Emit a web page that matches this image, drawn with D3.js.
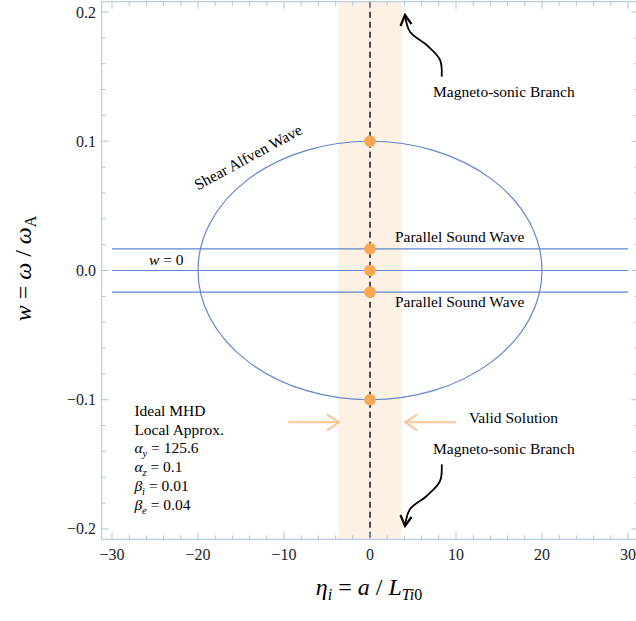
<!DOCTYPE html>
<html>
<head>
<meta charset="utf-8">
<script src="https://cdn.jsdelivr.net/npm/d3@7"></script>
<style>
  html, body { margin: 0; padding: 0; background: #ffffff; }
  svg { display: block; }
  text { font-family: "Liberation Serif", "Times New Roman", serif; }
</style>
</head>
<body>
<svg id="chart" width="636" height="621"></svg>
<script>
// ---- data ----
const xDomain = [-31.2, 31.2];
const yDomain = [-0.208, 0.208];
const xMajorTicks = [-30, -20, -10, 0, 10, 20, 30];
const yMajorTicks = [-0.2, -0.1, 0.0, 0.1, 0.2];
const xMinorStep = 2;
const yMinorStep = 0.02;

// Shear Alfven branch: ellipse with semi-axes in eta and w
const alfvenCenter = [0, 0];
const alfvenSemiAxes = [20, 0.1];

// Horizontal branches (parallel sound waves and w = 0)
const flatLevels = [0.0167, 0, -0.0167];
const flatRange = [-30, 30];

// Region of validity of the local approximation
const validBand = [-3.7, 3.7];

// Solutions at eta_i = 0
const solutionEta = [0, 0, 0, 0, 0];
const solutionW = [0.1, 0.0167, 0, -0.0167, -0.1];

// Curved pointer arrows toward the magneto-sonic branch (data units)
const upperArrowEta = [8.34, 8.14, 6.59, 4.65, 4.07];
const upperArrowW = [0.150, 0.163, 0.1745, 0.1848, 0.1977];
const lowerArrowEta = upperArrowEta;
const lowerArrowW = upperArrowW.map(v => -v);

// Straight arrows pointing at the valid band
const validArrowW = -0.1175;
const validArrowLeft = [-9.5, -3.6];
const validArrowRight = [10.0, 4.1];

// Plain annotations: [text, eta, w, rotation]
const notes = [
  ["Shear Alfven Wave", -20.0, 0.062, -28.5],
  ["Parallel Sound Wave", 2.9, 0.0223, 0],
  ["Parallel Sound Wave", 2.9, -0.0280, 0],
  ["Magneto-sonic Branch", 7.33, 0.1345, 0],
  ["Magneto-sonic Branch", 7.33, -0.1420, 0],
  ["Valid Solution", 11.5, -0.118, 0]
];

// Parameter box
const paramEta = -27.4;
const paramW0 = -0.1123;
const paramStep = -0.01462;
const paramLines = [
  [{t: "Ideal MHD"}],
  [{t: "Local Approx."}],
  [{t: "α", i: true}, {t: "y", i: true, sub: true}, {t: " = 125.6"}],
  [{t: "α", i: true}, {t: "z", i: true, sub: true}, {t: " = 0.1"}],
  [{t: "β", i: true}, {t: "i", i: true, sub: true}, {t: " = 0.01"}],
  [{t: "β", i: true}, {t: "e", i: true, sub: true}, {t: " = 0.04"}]
];

// ---- layout ----
const svg = d3.select("#chart");
const plotLeft = 101.7, plotRight = 638.3, plotTop = 1.7, plotBottom = 539.3;

const x = d3.scaleLinear().domain(xDomain).range([plotLeft, plotRight]);
const y = d3.scaleLinear().domain(yDomain).range([plotBottom, plotTop]);

const lineColor = "#5f86cf";
const frameColor = "#a8c4dc";
const dotColor = "#f8a652";
const bandColor = "#fdf1e4";
const pointerColor = "#fcc595";
const inkColor = "#000";

svg.append("rect").attr("width", 636).attr("height", 621).attr("fill", "#fff");

// valid band
svg.append("rect")
  .attr("x", x(validBand[0]))
  .attr("y", plotTop)
  .attr("width", x(validBand[1]) - x(validBand[0]))
  .attr("height", plotBottom - plotTop)
  .attr("fill", bandColor);

// horizontal branches
svg.append("g").selectAll("line").data(flatLevels).join("line")
  .attr("x1", x(flatRange[0])).attr("x2", x(flatRange[1]))
  .attr("y1", d => y(d)).attr("y2", d => y(d))
  .attr("stroke", lineColor).attr("stroke-width", 1.2);

// shear Alfven ellipse
svg.append("ellipse")
  .attr("cx", x(alfvenCenter[0])).attr("cy", y(alfvenCenter[1]))
  .attr("rx", x(alfvenSemiAxes[0]) - x(0))
  .attr("ry", y(0) - y(alfvenSemiAxes[1]))
  .attr("fill", "none").attr("stroke", lineColor).attr("stroke-width", 1.2);

// dashed eta = 0 line
svg.append("line")
  .attr("x1", x(0)).attr("x2", x(0))
  .attr("y1", plotTop).attr("y2", plotBottom)
  .attr("stroke", "#111").attr("stroke-width", 1.5)
  .attr("stroke-dasharray", "6,4");

// solution points
svg.append("g").selectAll("circle").data(solutionW).join("circle")
  .attr("cx", (d, i) => x(solutionEta[i]))
  .attr("cy", d => y(d))
  .attr("r", 5.8)
  .attr("fill", dotColor);

// frame and ticks
const frame = svg.append("g");
frame.append("rect")
  .attr("x", plotLeft).attr("y", plotTop)
  .attr("width", plotRight - plotLeft).attr("height", plotBottom - plotTop)
  .attr("fill", "none").attr("stroke", frameColor).attr("stroke-width", 1);

const xMinor = d3.range(-30, 30.001, xMinorStep).filter(v => !xMajorTicks.includes(v));
const yMinor = d3.range(-0.2, 0.2001, yMinorStep).map(v => +v.toFixed(3))
  .filter(v => !yMajorTicks.some(m => Math.abs(m - v) < 1e-9));

function xTicks(vals, len) {
  vals.forEach(v => {
    frame.append("line").attr("x1", x(v)).attr("x2", x(v))
      .attr("y1", plotBottom).attr("y2", plotBottom - len)
      .attr("stroke", frameColor);
    frame.append("line").attr("x1", x(v)).attr("x2", x(v))
      .attr("y1", plotTop).attr("y2", plotTop + len)
      .attr("stroke", frameColor);
  });
}
function yTicks(vals, len) {
  vals.forEach(v => {
    frame.append("line").attr("x1", plotLeft).attr("x2", plotLeft + len)
      .attr("y1", y(v)).attr("y2", y(v)).attr("stroke", frameColor);
    frame.append("line").attr("x1", plotRight).attr("x2", plotRight - len)
      .attr("y1", y(v)).attr("y2", y(v)).attr("stroke", frameColor);
  });
}
xTicks(xMajorTicks, 7);
xTicks(xMinor, 4);
yTicks(yMajorTicks, 7);
yTicks(yMinor, 4);

const fmtMinus = s => s.replace("-", "\u2212");
svg.append("g").selectAll("text").data(xMajorTicks).join("text")
  .attr("x", d => x(d)).attr("y", 559.5)
  .attr("text-anchor", "middle")
  .attr("font-size", 16).attr("fill", "#222")
  .text(d => fmtMinus(d3.format("d")(d)));
svg.append("g").selectAll("text").data(yMajorTicks).join("text")
  .attr("x", 96).attr("y", d => y(d) + 5.5)
  .attr("text-anchor", "end")
  .attr("font-size", 16).attr("fill", "#222")
  .text(d => fmtMinus(d3.format(".1f")(d)));

// annotations
svg.append("g").selectAll("text").data(notes).join("text")
  .attr("transform", d => `translate(${x(d[1])},${y(d[2])}) rotate(${d[3]})`)
  .attr("font-size", 15.5).attr("fill", inkColor)
  .text(d => d[0]);

// w = 0 label
const w0 = svg.append("text")
  .attr("x", x(-25.7)).attr("y", y(0.0043))
  .attr("font-size", 15.5).attr("fill", inkColor);
w0.append("tspan").attr("font-style", "italic").text("w");
w0.append("tspan").text(" = 0");

// parameter box
paramLines.forEach((parts, k) => {
  const t = svg.append("text")
    .attr("x", x(paramEta)).attr("y", y(paramW0 + paramStep * k))
    .attr("font-size", 15.5).attr("fill", inkColor);
  parts.forEach(p => {
    const s = t.append("tspan").text(p.t);
    if (p.i) s.attr("font-style", "italic");
    if (p.sub) s.attr("font-size", 10.5).attr("dy", 4);
    else if (parts.length > 1 && !p.i) s.attr("dy", -4);
  });
});

// curved pointer arrows
const curve = d3.line().x(d => x(d[0])).y(d => y(d[1])).curve(d3.curveCatmullRom);
function pointer(etas, ws, dir) {
  const pts = etas.map((e, i) => [e, ws[i]]);
  svg.append("path").attr("d", curve(pts))
    .attr("fill", "none").attr("stroke", "#000").attr("stroke-width", 1.8);
  const tip = [x(pts[pts.length - 1][0]), y(pts[pts.length - 1][1])];
  svg.append("path")
    .attr("d", `M${tip[0] - 4.5},${tip[1] + dir * 11} L${tip[0]},${tip[1]} L${tip[0] + 6.5},${tip[1] + dir * 9}`)
    .attr("fill", "none").attr("stroke", "#000").attr("stroke-width", 2.2)
    .attr("stroke-linejoin", "miter");
}
pointer(upperArrowEta, upperArrowW, 1);
pointer(lowerArrowEta, lowerArrowW, -1);

// straight arrows toward the band
function straight(range, dir) {
  const yy = y(validArrowW);
  const x0 = x(range[0]), x1 = x(range[1]);
  svg.append("line").attr("x1", x0).attr("x2", x1).attr("y1", yy).attr("y2", yy)
    .attr("stroke", pointerColor).attr("stroke-width", 2);
  svg.append("path")
    .attr("d", `M${x1 - dir * 12},${yy - 8} L${x1},${yy} L${x1 - dir * 12},${yy + 8}`)
    .attr("fill", "none").attr("stroke", pointerColor).attr("stroke-width", 2);
}
straight(validArrowLeft, 1);
straight(validArrowRight, -1);

// axis titles
const xt = svg.append("text")
  .attr("x", 369).attr("y", 595)
  .attr("text-anchor", "middle")
  .attr("font-size", 24).attr("fill", inkColor);
xt.append("tspan").attr("font-style", "italic").text("η");
xt.append("tspan").attr("font-style", "italic").attr("font-size", 16).attr("dy", 5).text("i");
xt.append("tspan").attr("dy", -5).text(" = ");
xt.append("tspan").attr("font-style", "italic").text("a");
xt.append("tspan").text(" / ");
xt.append("tspan").attr("font-style", "italic").text("L");
xt.append("tspan").attr("font-style", "italic").attr("font-size", 16).attr("dy", 5).text("Ti");
xt.append("tspan").attr("font-size", 16).text("0");

const yt = svg.append("text")
  .attr("transform", `translate(31,${y(0) - 2}) rotate(-90)`)
  .attr("text-anchor", "middle")
  .attr("font-size", 24).attr("fill", inkColor);
yt.append("tspan").attr("font-style", "italic").text("w");
yt.append("tspan").text(" = ");
yt.append("tspan").attr("font-style", "italic").text("ω");
yt.append("tspan").text(" / ");
yt.append("tspan").attr("font-style", "italic").text("ω");
yt.append("tspan").attr("font-size", 16).attr("dy", 5).text("A");
</script>
</body>
</html>
